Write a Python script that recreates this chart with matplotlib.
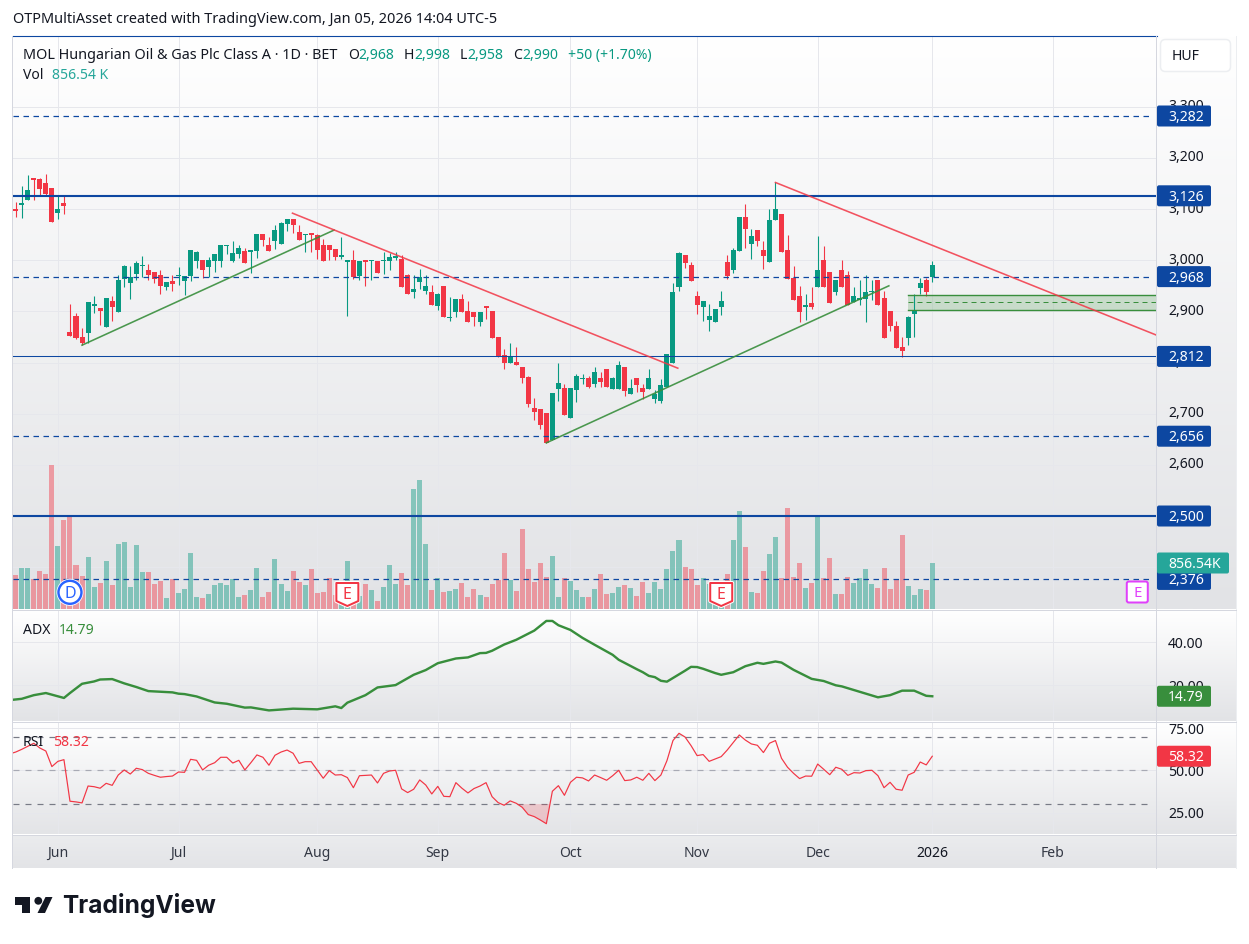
import numpy as np
import matplotlib
matplotlib.use("Agg")
from matplotlib import pyplot as plt
from matplotlib.patches import FancyBboxPatch, Circle, Polygon, Rectangle

W, H = 1249, 944
plt.rcParams['font.family'] = ['Noto Sans', 'DejaVu Sans']

#? ---- Data
opens = [3100,3108,3118,3161,3159,3151,3141,3092,3112,2860,
         2891,2850,2858,2910,2907,2870,2920,2899,2963,2955,
         2973,2989,2981,2977,2971,2948,2959,2969,2959,2969,
         2998,3000,2987,2998,2998,3028,2998,3012,3018,3016,
         3018,3051,3030,3038,3032,3071,3081,3055,3049,3053,
         3049,3030,3030,3022,3006,2997,3000,2969,3000,2998,
         2998,2998,2998,3004,3002,2971,2938,2957,2940,2938,
         2911,2950,2887,2899,2924,2901,2899,2879,2911,2901,
         2850,2815,2799,2801,2791,2772,2711,2709,2701,2649,
         2748,2750,2692,2746,2768,2770,2758,2770,2787,2748,
         2748,2791,2738,2770,2750,2748,2729,2725,2752,2799,
         2948,3010,2991,2930,2909,2883,2879,2909,2997,2981,
         3018,3085,3032,3059,3020,2997,3079,3090,3020,2965,
         2930,2909,2916,2948,3000,2977,2938,2981,2971,2918,
         2922,2924,2938,2961,2926,2901,2872,2830,2848,2895,
         2946,2961,2968]
closes = [3096,3112,3137,3157,3139,3130,3075,3100,3106,2852,
          2848,2838,2918,2914,2901,2926,2908,2961,2989,2967,
          2995,2991,2971,2963,2950,2957,2953,2971,2969,3020,
          3016,2981,3000,3012,3030,3030,3014,3024,2995,3020,
          3051,3040,3018,3059,3073,3081,3069,3040,3051,3049,
          3020,2998,3020,3006,3010,3000,2967,2998,2997,3000,
          2975,3000,3006,3008,2948,2934,2944,2967,2950,2912,
          2934,2889,2889,2924,2899,2879,2889,2899,2907,2848,
          2811,2799,2811,2795,2770,2719,2703,2678,2643,2740,
          2760,2698,2750,2774,2770,2752,2782,2762,2752,2770,
          2795,2744,2750,2756,2742,2770,2738,2756,2817,2938,
          3014,2995,2959,2912,2920,2891,2905,2920,2969,3020,
          3085,3061,3047,3038,3008,3079,3100,3016,2963,2922,
          2899,2912,2909,2981,2948,2916,2961,2948,2912,2930,
          2926,2938,2940,2912,2848,2872,2828,2823,2889,2901,
          2956,2938,2990]
highs = [3114,3145,3167,3161,3161,3169,3141,3126,3126,2914,
         2897,2868,2918,2930,2907,2926,2930,2971,2991,2989,
         2998,3008,2993,2977,2981,2957,2971,2987,2969,3020,
         3018,3000,3006,3012,3030,3030,3038,3030,3024,3020,
         3051,3051,3045,3069,3075,3081,3081,3069,3051,3053,
         3051,3041,3030,3022,3045,3000,3020,2998,3000,3000,
         2998,3016,3014,3016,3010,2973,2971,2983,2971,2952,
         2936,2950,2928,2924,2934,2920,2899,2899,2911,2901,
         2850,2826,2838,2830,2791,2774,2731,2709,2701,2740,
         2799,2758,2750,2778,2778,2774,2791,2782,2787,2772,
         2803,2791,2768,2770,2758,2787,2746,2768,2817,2956,
         3016,3010,2997,2940,2920,2914,2905,2940,3010,3024,
         3085,3110,3061,3059,3038,3100,3152,3090,3049,2989,
         2950,2934,2948,3047,3028,2977,2961,3000,2979,2948,
         2961,2971,2961,2961,2940,2901,2881,2850,2891,2934,
         2965,2965,2998]
lows = [3085,3083,3118,3118,3127,3127,3075,3081,3090,2852,
        2846,2834,2838,2897,2873,2870,2881,2899,2948,2924,
        2961,2967,2961,2955,2934,2942,2940,2952,2932,2959,
        2985,2965,2967,2977,2987,3012,2996,3004,2995,2975,
        3004,3028,3018,3022,3032,3057,3053,3040,3016,3016,
        3002,2998,3000,3000,3002,2891,2963,2961,2950,2961,
        2975,2973,2981,3000,2948,2934,2926,2944,2934,2912,
        2903,2889,2881,2889,2899,2879,2871,2871,2885,2848,
        2811,2787,2799,2795,2760,2713,2688,2670,2643,2649,
        2725,2698,2692,2723,2758,2750,2752,2752,2752,2748,
        2748,2735,2738,2742,2729,2748,2721,2721,2752,2799,
        2940,2985,2959,2895,2881,2862,2879,2893,2963,2975,
        3018,3024,3002,3028,2983,2997,3079,3016,2963,2922,
        2879,2883,2905,2948,2948,2916,2932,2948,2912,2918,
        2912,2879,2922,2912,2848,2862,2828,2811,2834,2850,
        2934,2930,2958]
volumes = [633,763,763,559,708,652,2681,1173,1657,1713,
           819,614,968,410,484,894,447,1210,1248,410,
           1192,689,689,466,521,205,559,298,372,1043,
           223,205,279,447,484,447,559,223,261,354,
           763,223,317,931,466,335,708,503,447,745,
           298,317,577,261,168,894,261,242,466,354,
           149,410,819,466,670,447,2234,2402,1210,354,
           577,317,335,372,484,223,372,261,223,466,
           540,1043,540,335,1490,745,503,857,596,987,
           223,577,521,354,223,223,372,652,279,298,
           410,447,391,242,503,298,503,372,745,1080,
           1285,782,745,447,577,466,124,168,652,1285,
           1825,1154,317,298,708,1024,1341,577,1881,596,
           857,391,484,1732,577,950,279,279,596,484,
           577,745,466,391,763,372,559,1378,428,261,
           372,354,856.54]

adx_idx = [-1,1,3,5,8,9,11,13,14,16,18,20,22,26,27,28,30,33,35,38,39,42,46,50,53,54,55,58,60,63,66,68,70,73,75,77,
           78,79,81,83,86,88,89,90,92,94,96,99,100,103,104,105,106,107,108,111,112,113,114,116,117,119,121,123,124,126,127,129,
           132,134,136,137,143,145,147,149,151,152]
adx_vals = [13.0,13.6,15.3,16.3,14.0,16.3,20.6,21.7,22.6,22.8,20.8,19.1,17.2,16.6,16.0,15.8,14.7,11.9,11.3,9.5,9.6,8.2,9.0,8.7,10.1,9.3,11.8,15.3,18.9,20.0,24.8,27.0,30.2,32.4,32.9,34.9,
            35.0,36.0,38.9,41.1,45.4,49.9,49.9,47.9,45.7,42.0,38.8,34.1,31.8,27.4,26.0,24.3,23.7,22.0,21.6,26.7,28.5,28.4,27.6,25.6,24.8,26.0,28.8,30.4,29.9,31.0,30.5,27.1,
            22.9,21.9,19.9,19.4,14.3,15.3,17.4,17.4,15.0,14.79]

# first value sits one bar before the first candle, the line runs into the pane edge
rsi_vals = [59.7,
            60.8,62.4,64.2,66.0,63.2,61.4,52.2,55.3,56.3,31.7,
            31.3,30.7,40.7,40.3,39.4,42.3,41.1,47.2,50.2,47.8,
            51.2,50.4,48.2,47.0,45.9,46.3,46.6,49.0,48.8,56.5,
            55.9,50.2,53.0,54.5,57.7,57.7,54.3,55.9,50.2,54.5,
            59.1,57.7,53.0,58.9,60.8,62.0,60.1,54.1,55.1,55.1,
            50.2,45.3,49.8,47.2,47.4,45.7,39.7,46.8,47.0,47.2,
            42.5,48.2,49.6,50.0,39.0,36.8,38.8,44.3,41.3,36.0,
            40.5,34.6,34.4,42.7,39.4,36.6,39.2,40.7,42.7,34.4,
            30.9,29.3,31.9,30.5,28.1,23.8,22.6,20.6,18.4,37.6,
            40.9,35.2,42.9,45.9,45.5,43.7,47.2,45.7,44.1,46.8,
            50.0,43.9,44.3,45.9,44.1,48.2,43.9,47.2,55.7,67.6,
            71.9,69.7,64.6,58.7,59.3,55.3,56.7,58.1,62.0,66.4,
            70.9,67.9,65.6,64.8,60.5,66.0,67.6,57.1,51.8,48.2,
            45.1,46.6,46.5,53.7,50.6,47.4,51.8,50.6,47.0,48.6,
            48.4,49.8,50.0,46.8,39.7,42.9,38.8,38.2,47.2,48.8,
            54.9,53.2,58.32]

month_idx = [7, 27, 50, 70, 92, 113, 133, 152, 172]
month_labels = ["Jun", "Jul", "Aug", "Sep", "Oct", "Nov", "Dec", "2026", "Feb"]
price_ticks = [3300, 3200, 3100, 3000, 2900, 2800, 2700, 2600, 2500, 2400]
adx_ticks = [40, 20]
rsi_ticks = [75, 50, 25]
level_vals = [3282, 3126, 2968, 2812, 2656, 2500, 2376]
level_widths = [1.25, 2, 1.25, 1, 1.25, 2, 1.25]
level_dashed = [True, False, True, False, True, False, True]
top_level = 3438
green_lines = [((11, 2834), (52.8, 3059)), ((88, 2643), (144.8, 2950))]
red_lines = [((45.9, 3092), (109.8, 2789)), ((126, 3152), (189.1, 2854))]
zone_start, zone_top, zone_mid, zone_bottom = 147.9, 2933, 2918, 2902
div_idx = [9]
earn_idx = [55, 117]
future_idx = [186]

#? ---- Colours
GREEN = "#089981"
RED = "#f23645"
BLUE = "#0d47a1"
ADX_GREEN = "#388e3c"
VOL_TEAL = "#26a69a"
GRID = "#e6e7ec"
TEXT = "#131722"
SEP = "#d5d7df"

fig = plt.figure(figsize=(W/100, H/100), dpi=100, facecolor="white")
PX = 0.72  # one pixel in points

def pane(left, top, right, bottom, z):
    ax = fig.add_axes([left/W, 1-bottom/H, (right-left)/W, (bottom-top)/H], zorder=z)
    ax.patch.set_alpha(0)
    ax.set_xticks([])
    ax.set_yticks([])
    for s in ax.spines.values():
        s.set_visible(False)
    return ax

def background(top, bottom, c1, c2):
    ax = pane(13, top, 1236, bottom, 0)
    c1 = np.array(matplotlib.colors.to_rgb(c1))
    c2 = np.array(matplotlib.colors.to_rgb(c2))
    t = np.linspace(0, 1, 200)[:, None, None]
    ax.imshow(c1[None, None, :]*(1-t) + c2[None, None, :]*t, aspect='auto')
    ax.axis('off')

background(36, 609, "#ffffff", "#e2e3e6")
background(610, 721, "#ffffff", "#e2e3e6")
background(722, 834, "#ffffff", "#e3e4e7")
background(835, 868, "#ebecee", "#e3e4e7")

#? ---- Axes, same x mapping everywhere
xlim = ((13-15.7)/6.03, (1156.5-15.7)/6.03)
x = np.arange(len(opens))
opens, closes, highs, lows = map(np.array, (opens, closes, highs, lows))
up = closes >= opens
colors = np.where(up, GREEN, RED)

axGrid = pane(13, 36, 1156.5, 609, 0.5)
axVol = pane(13, 36, 1156.5, 609, 1)
axMain = pane(13, 36, 1156.5, 609, 2)
axAdx = pane(13, 610, 1156.5, 721, 1)
axRsi = pane(13, 722, 1156.5, 834, 1)

for ax in (axGrid, axMain, axVol, axAdx, axRsi):
    ax.set_xlim(xlim)
axMain.set_ylim(2318.2, 3438.4)
axGrid.set_ylim(2318.2, 3438.4)
axVol.set_ylim(0, 573/(46/856.54))
axAdx.set_ylim(3.26, 55.0)
axRsi.set_ylim(50-(834-770.3)/1.69, 50+(770.3-722)/1.69)

for ax in (axGrid, axAdx, axRsi):
    for m in month_idx:
        ax.axvline(m, color=GRID, lw=PX, zorder=1)
for t in price_ticks:
    axGrid.axhline(t, color=GRID, lw=PX, zorder=1)
for t in adx_ticks:
    axAdx.axhline(t, color=GRID, lw=PX, zorder=1)
for t in rsi_ticks:
    axRsi.axhline(t, color=GRID, lw=PX, zorder=1)

#? ---- Volume
axVol.bar(x, volumes, width=0.83, color=colors, alpha=0.44, linewidth=0)

#? ---- Candles
axMain.vlines(x, lows, highs, colors=colors, lw=PX*1.1, zorder=3)
axMain.bar(x, np.maximum(np.abs(closes-opens), 2), bottom=np.minimum(opens, closes),
           width=0.83, color=colors, linewidth=0, zorder=4)

#? ---- Levels and drawings
for v, w, d in zip(level_vals, level_widths, level_dashed):
    if d:
        axMain.plot([xlim[0], 188.2], [v, v], color=BLUE, lw=w*PX, linestyle=(0, (4.4, 3.6)), zorder=5)
    else:
        axMain.axhline(v, color=BLUE, lw=w*PX*1.05, zorder=5)
axMain.axhline(top_level, color=BLUE, lw=PX*1.1, zorder=5, clip_on=False)

for p0, p1 in green_lines:
    axMain.plot([p0[0], p1[0]], [p0[1], p1[1]], color=ADX_GREEN, lw=1.6*PX, alpha=0.9, zorder=5)
for p0, p1 in red_lines:
    axMain.plot([p0[0], p1[0]], [p0[1], p1[1]], color=RED, lw=1.6*PX, alpha=0.85, zorder=5)

axMain.fill_between([zone_start, xlim[1]], zone_bottom, zone_top, color=ADX_GREEN, alpha=0.22, linewidth=0, zorder=2)
axMain.plot([zone_start, xlim[1]], [zone_top, zone_top], color=ADX_GREEN, lw=1.4*PX, zorder=3)
axMain.plot([zone_start, xlim[1]], [zone_bottom, zone_bottom], color=ADX_GREEN, lw=1.4*PX, zorder=3)
axMain.plot([zone_start, xlim[1]], [zone_mid, zone_mid], color=ADX_GREEN, lw=PX, linestyle=(0, (5, 4)), zorder=3)

#? ---- ADX
axAdx.plot(adx_idx, adx_vals, color=ADX_GREEN, lw=2.4*PX, solid_joinstyle='round', zorder=3)

#? ---- RSI
rsi_x = np.arange(-1, len(rsi_vals)-1)
rsi_arr = np.array(rsi_vals)
axRsi.plot([xlim[0], 188.2], [70, 70], color="#787b86", lw=1.2*PX, linestyle=(0, (5, 5)), zorder=2)
axRsi.plot([xlim[0], 188.2], [30, 30], color="#787b86", lw=1.2*PX, linestyle=(0, (5, 5)), zorder=2)
axRsi.plot([xlim[0], 188.2], [50, 50], color="#a8aab4", lw=1.2*PX, linestyle=(0, (5, 5)), zorder=2)
axRsi.fill_between(rsi_x, rsi_arr, 30, where=rsi_arr < 30, interpolate=True, color=RED, alpha=0.2, linewidth=0, zorder=2)
axRsi.fill_between(rsi_x, rsi_arr, 70, where=rsi_arr > 70, interpolate=True, color=GREEN, alpha=0.2, linewidth=0, zorder=2)
axRsi.plot(rsi_x, rsi_arr, color=RED, lw=1.2*PX, zorder=3)

#? ---- Overlay for texts, tags and badges, works in pixels
over = pane(0, 0, W, H, 10)
over.set_xlim(0, W)
over.set_ylim(H, 0)

def ypx(ax, v):
    return H - ax.transData.transform((0, v))[1]

def xpx(i):
    return axMain.transData.transform((i, 0))[0]

def txt(x0, y0, s, color=TEXT, size=14, ha='left', weight='normal', z=3):
    # y0 is the middle of the capitals, baseline keeps rows level
    over.text(x0, y0+size*0.36, s, color=color, fontsize=size*PX, ha=ha, va='baseline', fontweight=weight, zorder=z)

def tag(y0, s, color, right=1211, z=5):
    over.add_patch(FancyBboxPatch((1157, y0-10.5), right-1157, 21, boxstyle="round,pad=0,rounding_size=2",
                                  fc=color, ec="none", zorder=z))
    txt(1168, y0, s, color="white", z=z+0.1)

# borders
over.plot([12.5, 12.5], [36, 868], color=SEP, lw=PX)
over.plot([1236, 1236], [36, 868], color="#eceef1", lw=PX)
over.plot([1156.5, 1156.5], [36, 868], color=SEP, lw=PX)
for yy in (609.5, 721.5, 834.5):
    over.plot([13, 1236], [yy, yy], color=SEP, lw=PX, zorder=2)

# header
txt(13, 18, "OTPMultiAsset created with TradingView.com, Jan 05, 2026 14:04 UTC-5", size=14.5)
txt(23, 54, "MOL Hungarian Oil & Gas Plc Class A \u00b7 1D \u00b7 BET", size=14.4)
for xx, s, c in [(348, "O", TEXT), (358, "2,968", GREEN), (404, "H", TEXT), (414, "2,998", GREEN),
                 (460, "L", TEXT), (467, "2,958", GREEN), (513, "C", TEXT), (522, "2,990", GREEN),
                 (568, "+50 (+1.70%)", GREEN)]:
    txt(xx, 54, s, color=c)
txt(23, 74, "Vol")
txt(52, 74, "856.54 K", color=VOL_TEAL)
txt(23, 629, "ADX")
txt(59, 629, "14.79", color=ADX_GREEN)
txt(23, 741, "RSI")
txt(53, 741, "58.32", color=RED)

# currency button
over.add_patch(FancyBboxPatch((1160.5, 39.5), 70, 32, boxstyle="round,pad=0,rounding_size=5",
                              fc="white", ec="#eceef1", lw=PX*1.5, zorder=3))
txt(1172, 55, "HUF", z=4)

# tick labels
for t in price_ticks:
    txt(1168, ypx(axMain, t)-1.5, f"{t:,}")
for t in adx_ticks:
    txt(1168, ypx(axAdx, t)+0.5, f"{t:.2f}")
for t in rsi_ticks:
    txt(1168, ypx(axRsi, t)+0.5, f"{t:.2f}")
for m, s in zip(month_idx, month_labels):
    txt(xpx(m), 852, s, ha='center', color=TEXT if s == "2026" else "#333844",
        weight='bold' if s == "2026" else 'normal')

# tags, later ones lie on top
for v in level_vals:
    tag(ypx(axMain, v), f"{v:,}", BLUE)
tag(ypx(axVol, volumes[-1]), "856.54K", VOL_TEAL, right=1229, z=6)
tag(ypx(axAdx, adx_vals[-1]), "14.79", ADX_GREEN)
tag(ypx(axRsi, rsi_vals[-1]), "58.32", RED)

# dividend and earnings badges
for i in div_idx:
    cx = xpx(i)
    over.add_patch(Circle((cx, 592.3), 13.5, fc="white", ec="none", zorder=4))
    over.add_patch(Circle((cx, 592.3), 11.5, fc="white", ec="#2962ff", lw=2.4*PX, zorder=4))
    txt(cx, 592.3, "D", color="#2962ff", ha='center', weight='bold', size=16, z=5)
for i in earn_idx:
    cx = xpx(i)
    pts = [(cx-11, 583), (cx+11, 583), (cx+11, 601), (cx, 606), (cx-11, 601)]
    over.add_patch(Polygon(pts, closed=True, fc="white", ec="white", lw=4*PX, joinstyle='round', zorder=4))
    over.add_patch(Polygon(pts, closed=True, fc="white", ec=RED, lw=2*PX, joinstyle='round', zorder=4))
    txt(cx, 593.5, "E", color=RED, ha='center', weight='bold', size=16, z=5)
for i in future_idx:
    cx = xpx(i)
    over.add_patch(FancyBboxPatch((cx-10.5, 581.5), 21, 21, boxstyle="round,pad=0,rounding_size=2",
                                  fc="white", ec="#e040fb", lw=2*PX, zorder=4))
    txt(cx, 592, "E", color="#e040fb", ha='center', weight='bold', size=15, z=5)

# logo
LOGO = "#131722"
over.add_patch(Rectangle((15, 897), 15, 7.5, fc=LOGO, ec="none"))
over.add_patch(Rectangle((22.5, 897), 7.5, 16, fc=LOGO, ec="none"))
over.add_patch(Circle((38.3, 900.8), 3.9, fc=LOGO, ec="none"))
over.add_patch(Polygon([(45.5, 897), (52.5, 897), (45, 913), (37.5, 913)], closed=True, fc=LOGO, ec="none"))
over.text(62, 913, "TradingView", color=LOGO, fontsize=24.5*PX, fontweight='bold', family="Inter", va='baseline')

fig.savefig("out.png", dpi=100, facecolor="white")
